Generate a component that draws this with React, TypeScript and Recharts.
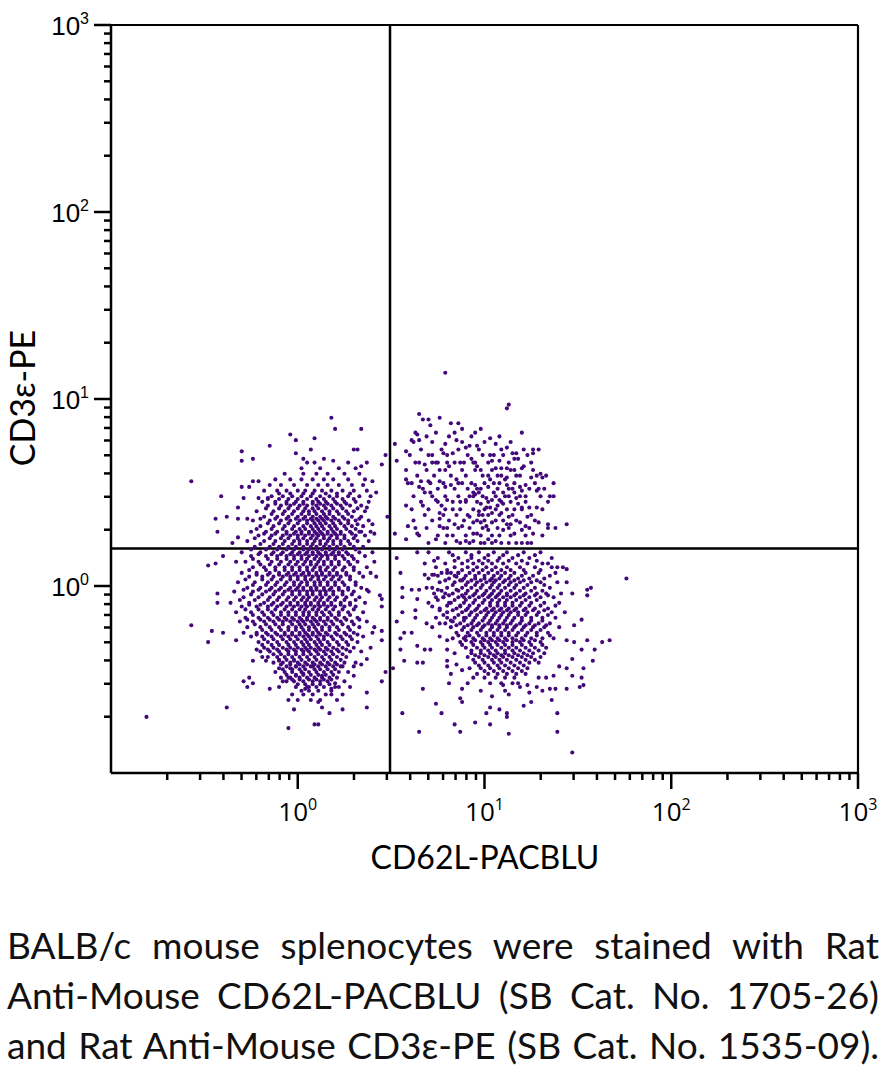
import React from 'react';
import { ScatterChart, Scatter, XAxis, YAxis, ReferenceLine } from 'recharts';

type Pt = [number, number];
type Row = [number, number[]];

// All values are log10 of fluorescence intensity: [CD62L-PACBLU, CD3e-PE]
const leftSparse: Pt[] = [
  [-0.04,0.81],[-0.01,0.78],[-0.15,0.75],[-0.30,0.72],[-0.30,0.67],[-0.24,0.68],[-0.01,0.71],[-0.57,0.56],[-0.41,0.48],[-0.30,0.53],
  [-0.26,0.53],[-0.24,0.56],[-0.21,0.56],[-0.29,0.47],[-0.21,0.47],[-0.16,0.47],[-0.32,0.42],[-0.44,0.36],[-0.38,0.37],[-0.43,0.29],
  [-0.32,0.36],[-0.27,0.36],[-0.35,0.23],[-0.32,0.26],[-0.40,0.16],[-0.48,0.11],[-0.44,0.12],[-0.33,0.13],
  [-0.57,-0.21],[-0.46,-0.24],[-0.48,-0.30],[-0.43,-0.04],[-0.43,-0.09],[-0.40,-0.25],[-0.33,-0.29],[-0.29,-0.25],[-0.81,-0.70],[-0.38,-0.65],
  [-0.29,-0.51],[-0.26,-0.49],[-0.27,-0.54],[-0.24,-0.52],[-0.15,-0.55],[-0.05,-0.61],[-0.02,-0.66],[-0.05,-0.76],[-0.22,-0.34],[-0.24,-0.40],
  [-0.19,-0.38],[-0.17,-0.40],[-0.10,-0.40],[-0.10,-0.44],[-0.08,-0.51],[-0.05,-0.49],[-0.04,-0.44],[-0.01,-0.43],[-0.02,-0.40],[-0.01,-0.48],
  [0.04,-0.55],[0.03,-0.47],
  [0.18,0.90],[0.20,0.84],[0.34,0.84],[0.09,0.79],[0.07,0.73],[0.30,0.73],[0.32,0.73],[0.47,0.70],[0.45,0.65],[0.03,0.68],
  [0.05,0.66],[0.09,0.66],[0.14,0.68],[0.19,0.67],[0.27,0.66],[0.37,0.66],[0.34,0.64],[0.40,0.56],[0.42,0.50],[0.39,0.48],
  [0.37,0.42],[0.48,0.37],[0.40,0.33],[0.41,0.28],[0.34,0.29],[0.32,0.33],
  [0.37,-0.57],[0.37,-0.65],[0.45,-0.51],[0.45,-0.29],[0.45,-0.24],[0.47,-0.46],[0.39,-0.33],[0.30,-0.48],[0.24,-0.66],[0.17,-0.68],
  [0.13,-0.65],[0.11,-0.62],[0.09,-0.74],[0.11,-0.74],[0.05,-0.54],[0.20,-0.52],[0.18,-0.55],[0.22,-0.54],[0.18,-0.58],[0.08,-0.43],
  [0.13,-0.48],[0.24,-0.43],[0.30,-0.43],[0.34,-0.42],[0.37,-0.39],[0.41,-0.22],[0.40,-0.25],[0.45,-0.11],[0.44,-0.05],[0.37,-0.02],
  [0.39,0.07],[0.45,-0.07],[0.51,-0.44],[0.52,0.28],[0.52,0.76],
];

const leftCoreRows: Row[] = [
  [0.63, [0.02, 0.12, 0.22, 0.31]],
  [0.60, [-0.07, 0.03, 0.10, 0.16, 0.25, 0.33]],
  [0.57, [-0.12, -0.04, 0.02, 0.08, 0.14, 0.19, 0.27, 0.36]],
  [0.54, [-0.15, -0.09, -0.02, 0.05, 0.11, 0.16, 0.22, 0.29, 0.35]],
  [0.51, [-0.18, -0.11, -0.06, 0.00, 0.04, 0.09, 0.13, 0.18, 0.24, 0.30, 0.37]],
  [0.48, [-0.14, -0.08, -0.03, 0.02, 0.07, 0.12, 0.17, 0.21, 0.27, 0.33]],
  [0.45, [-0.19, -0.12, -0.06, -0.01, 0.03, 0.08, 0.11, 0.15, 0.20, 0.25, 0.31, 0.38]],
  [0.43, [-0.16, -0.09, -0.04, 0.01, 0.05, 0.10, 0.14, 0.18, 0.23, 0.28, 0.34]],
  [0.40, [-0.22, -0.13, -0.07, -0.02, 0.03, 0.06, 0.09, 0.13, 0.17, 0.21, 0.26, 0.30, 0.36]],
  [0.37, [-0.18, -0.11, -0.05, 0.00, 0.04, 0.08, 0.12, 0.15, 0.19, 0.24, 0.29, 0.34]],
  [0.35, [-0.24, -0.15, -0.09, -0.04, 0.01, 0.05, 0.08, 0.11, 0.14, 0.18, 0.22, 0.27, 0.31, 0.38]],
  [0.32, [-0.20, -0.13, -0.07, -0.02, 0.03, 0.07, 0.10, 0.13, 0.17, 0.20, 0.25, 0.29, 0.35]],
  [0.29, [-0.25, -0.17, -0.11, -0.06, -0.01, 0.02, 0.06, 0.09, 0.12, 0.16, 0.19, 0.23, 0.28, 0.33, 0.39]],
  [0.27, [-0.21, -0.14, -0.08, -0.04, 0.00, 0.04, 0.08, 0.11, 0.14, 0.18, 0.21, 0.25, 0.31, 0.36]],
  [0.24, [-0.27, -0.18, -0.12, -0.07, -0.02, 0.01, 0.05, 0.09, 0.12, 0.16, 0.19, 0.23, 0.27, 0.32, 0.38]],
  [0.21, [-0.23, -0.15, -0.10, -0.05, -0.01, 0.03, 0.07, 0.10, 0.14, 0.17, 0.21, 0.25, 0.30, 0.35]],
  [0.18, [-0.30, -0.20, -0.13, -0.08, -0.03, 0.01, 0.05, 0.08, 0.11, 0.15, 0.19, 0.22, 0.26, 0.33, 0.40]],
  [0.16, [-0.25, -0.17, -0.11, -0.06, -0.02, 0.02, 0.06, 0.10, 0.13, 0.16, 0.20, 0.24, 0.29, 0.36]],
  [0.13, [-0.28, -0.21, -0.14, -0.09, -0.04, 0.00, 0.04, 0.07, 0.11, 0.14, 0.18, 0.22, 0.27, 0.32, 0.41]],
  [0.10, [-0.24, -0.18, -0.12, -0.07, -0.03, 0.01, 0.05, 0.09, 0.12, 0.16, 0.20, 0.25, 0.30, 0.37]],
  [0.07, [-0.30, -0.22, -0.15, -0.10, -0.05, -0.01, 0.03, 0.06, 0.10, 0.13, 0.17, 0.21, 0.26, 0.33]],
  [0.05, [-0.26, -0.19, -0.13, -0.08, -0.04, 0.00, 0.04, 0.08, 0.11, 0.15, 0.19, 0.23, 0.28, 0.35, 0.42]],
  [0.02, [-0.32, -0.23, -0.16, -0.11, -0.06, -0.02, 0.02, 0.05, 0.09, 0.12, 0.16, 0.20, 0.24, 0.31]],
  [-0.01, [-0.27, -0.20, -0.14, -0.09, -0.04, 0.00, 0.03, 0.07, 0.10, 0.14, 0.18, 0.22, 0.27, 0.34]],
  [-0.03, [-0.34, -0.24, -0.17, -0.12, -0.07, -0.03, 0.01, 0.05, 0.08, 0.12, 0.15, 0.19, 0.24, 0.30, 0.38]],
  [-0.06, [-0.29, -0.21, -0.15, -0.10, -0.05, -0.01, 0.03, 0.06, 0.10, 0.13, 0.17, 0.21, 0.26, 0.33]],
  [-0.09, [-0.36, -0.26, -0.18, -0.13, -0.08, -0.04, 0.00, 0.04, 0.07, 0.11, 0.14, 0.18, 0.23, 0.28, 0.36]],
  [-0.11, [-0.30, -0.22, -0.16, -0.11, -0.06, -0.02, 0.02, 0.05, 0.09, 0.12, 0.16, 0.20, 0.25, 0.31]],
  [-0.14, [-0.33, -0.25, -0.19, -0.14, -0.09, -0.05, -0.01, 0.03, 0.06, 0.10, 0.13, 0.17, 0.22, 0.27, 0.35]],
  [-0.17, [-0.28, -0.21, -0.16, -0.11, -0.07, -0.03, 0.01, 0.05, 0.08, 0.12, 0.16, 0.20, 0.25, 0.32]],
  [-0.19, [-0.31, -0.24, -0.18, -0.13, -0.08, -0.04, 0.00, 0.03, 0.07, 0.10, 0.14, 0.18, 0.23, 0.29, 0.37]],
  [-0.22, [-0.27, -0.20, -0.15, -0.10, -0.05, -0.01, 0.02, 0.06, 0.09, 0.13, 0.17, 0.21, 0.27, 0.33]],
  [-0.25, [-0.22, -0.17, -0.12, -0.07, -0.03, 0.01, 0.04, 0.08, 0.11, 0.15, 0.20, 0.25, 0.30]],
  [-0.27, [-0.25, -0.19, -0.14, -0.09, -0.05, -0.01, 0.03, 0.06, 0.10, 0.14, 0.18, 0.23, 0.28, 0.35]],
  [-0.30, [-0.21, -0.16, -0.11, -0.06, -0.02, 0.02, 0.05, 0.09, 0.12, 0.16, 0.21, 0.26, 0.32]],
  [-0.33, [-0.18, -0.13, -0.08, -0.04, 0.00, 0.04, 0.07, 0.11, 0.15, 0.19, 0.24, 0.30]],
  [-0.35, [-0.20, -0.15, -0.10, -0.05, -0.01, 0.03, 0.06, 0.10, 0.14, 0.18, 0.22, 0.28, 0.34]],
  [-0.38, [-0.16, -0.11, -0.07, -0.03, 0.01, 0.05, 0.09, 0.13, 0.17, 0.21, 0.26]],
  [-0.41, [-0.13, -0.08, -0.04, 0.00, 0.04, 0.08, 0.12, 0.16, 0.20, 0.25, 0.31]],
  [-0.43, [-0.06, -0.01, 0.03, 0.07, 0.11, 0.15, 0.19, 0.23]],
  [-0.46, [-0.12, -0.07, -0.03, 0.02, 0.06, 0.10, 0.14, 0.18, 0.22, 0.27]],
  [-0.49, [-0.09, -0.04, 0.01, 0.05, 0.09, 0.13, 0.17, 0.21]],
  [-0.51, [-0.06, -0.02, 0.03, 0.08, 0.12, 0.16, 0.25]],
  [-0.54, [-0.10, -0.01, 0.06, 0.10, 0.14, 0.20, 0.28]],
  [-0.58, [-0.03, 0.03, 0.08, 0.15, 0.24]],
  [-0.61, [0.00, 0.07, 0.12, 0.21]],
];

// Second, interleaved layer of the densest part of the left population
const leftDenseRows: Row[] = [
  [0.495, [-0.10, -0.04, 0.03, 0.08, 0.15, 0.21, 0.28]],
  [0.465, [-0.16, -0.10, -0.05, 0.00, 0.05, 0.10, 0.14, 0.19, 0.24, 0.30]],
  [0.44, [-0.12, -0.06, -0.02, 0.03, 0.08, 0.12, 0.16, 0.21, 0.26]],
  [0.415, [-0.17, -0.10, -0.05, 0.00, 0.04, 0.08, 0.11, 0.15, 0.19, 0.24, 0.32]],
  [0.385, [-0.14, -0.08, -0.03, 0.02, 0.06, 0.10, 0.14, 0.17, 0.22, 0.27]],
  [0.36, [-0.20, -0.12, -0.06, -0.01, 0.03, 0.07, 0.10, 0.13, 0.16, 0.20, 0.25, 0.33]],
  [0.335, [-0.16, -0.10, -0.05, 0.00, 0.05, 0.09, 0.12, 0.15, 0.19, 0.23, 0.27]],
  [0.305, [-0.22, -0.14, -0.08, -0.03, 0.01, 0.04, 0.08, 0.11, 0.14, 0.18, 0.21, 0.26, 0.31]],
  [0.28, [-0.18, -0.12, -0.06, -0.02, 0.02, 0.06, 0.10, 0.13, 0.16, 0.20, 0.23, 0.29]],
  [0.255, [-0.23, -0.15, -0.09, -0.05, 0.00, 0.03, 0.07, 0.10, 0.14, 0.17, 0.21, 0.25, 0.30]],
  [0.225, [-0.20, -0.13, -0.08, -0.03, 0.01, 0.05, 0.08, 0.12, 0.15, 0.19, 0.23, 0.28]],
  [0.195, [-0.25, -0.17, -0.11, -0.06, -0.02, 0.03, 0.06, 0.10, 0.13, 0.17, 0.20, 0.24, 0.31]],
  [0.17, [-0.21, -0.14, -0.09, -0.04, 0.00, 0.04, 0.08, 0.12, 0.15, 0.18, 0.22, 0.27]],
  [0.145, [-0.24, -0.16, -0.11, -0.06, -0.02, 0.02, 0.05, 0.09, 0.12, 0.16, 0.20, 0.25, 0.30]],
  [0.115, [-0.20, -0.15, -0.10, -0.05, -0.01, 0.03, 0.07, 0.10, 0.14, 0.18, 0.22, 0.28]],
  [0.085, [-0.26, -0.17, -0.12, -0.07, -0.03, 0.01, 0.05, 0.08, 0.12, 0.15, 0.19, 0.24, 0.30]],
  [0.06, [-0.22, -0.16, -0.10, -0.06, -0.02, 0.02, 0.06, 0.10, 0.13, 0.17, 0.21, 0.26]],
  [0.035, [-0.28, -0.19, -0.14, -0.09, -0.04, 0.00, 0.04, 0.07, 0.11, 0.14, 0.18, 0.22, 0.28]],
  [0.005, [-0.24, -0.17, -0.12, -0.07, -0.02, 0.01, 0.05, 0.09, 0.12, 0.16, 0.20, 0.25, 0.31]],
  [-0.02, [-0.29, -0.21, -0.15, -0.10, -0.05, -0.01, 0.03, 0.07, 0.10, 0.14, 0.17, 0.22, 0.27]],
  [-0.045, [-0.25, -0.19, -0.13, -0.08, -0.03, 0.01, 0.05, 0.08, 0.12, 0.15, 0.19, 0.24, 0.29]],
  [-0.075, [-0.31, -0.23, -0.16, -0.11, -0.06, -0.02, 0.02, 0.05, 0.09, 0.12, 0.16, 0.20, 0.25, 0.31]],
  [-0.10, [-0.26, -0.20, -0.14, -0.09, -0.04, 0.00, 0.04, 0.07, 0.11, 0.14, 0.18, 0.23, 0.28]],
  [-0.125, [-0.28, -0.21, -0.16, -0.12, -0.07, -0.03, 0.01, 0.04, 0.08, 0.11, 0.15, 0.19, 0.24, 0.30]],
  [-0.155, [-0.24, -0.18, -0.13, -0.09, -0.05, -0.01, 0.03, 0.06, 0.10, 0.14, 0.18, 0.22, 0.28]],
  [-0.18, [-0.27, -0.20, -0.15, -0.10, -0.06, -0.02, 0.02, 0.05, 0.09, 0.12, 0.16, 0.21, 0.26, 0.33]],
  [-0.205, [-0.23, -0.17, -0.12, -0.08, -0.03, 0.01, 0.04, 0.08, 0.11, 0.15, 0.19, 0.24, 0.30]],
  [-0.235, [-0.19, -0.14, -0.09, -0.05, -0.01, 0.03, 0.06, 0.10, 0.13, 0.17, 0.22, 0.28]],
  [-0.26, [-0.22, -0.16, -0.11, -0.07, -0.03, 0.01, 0.05, 0.08, 0.12, 0.16, 0.21, 0.26, 0.32]],
  [-0.285, [-0.18, -0.13, -0.08, -0.04, 0.00, 0.04, 0.07, 0.11, 0.14, 0.19, 0.24, 0.29]],
  [-0.315, [-0.19, -0.14, -0.10, -0.05, -0.01, 0.03, 0.06, 0.10, 0.13, 0.17, 0.22, 0.27]],
  [-0.34, [-0.16, -0.11, -0.06, -0.02, 0.02, 0.05, 0.09, 0.12, 0.16, 0.21, 0.26]],
  [-0.365, [-0.13, -0.09, -0.05, -0.01, 0.03, 0.07, 0.11, 0.15, 0.19, 0.24]],
  [-0.395, [-0.10, -0.06, -0.02, 0.02, 0.06, 0.10, 0.14, 0.18, 0.23]],
  [-0.42, [-0.09, -0.04, 0.01, 0.05, 0.09, 0.13, 0.17, 0.21]],
  [-0.445, [-0.08, -0.03, 0.01, 0.04, 0.09, 0.12, 0.16, 0.20]],
  [-0.475, [-0.06, -0.01, 0.03, 0.07, 0.11, 0.15, 0.19]],
  [-0.50, [-0.03, 0.01, 0.06, 0.10, 0.14, 0.18]],
  [-0.525, [0.00, 0.04, 0.08, 0.12, 0.17]],
  [-0.56, [0.02, 0.06, 0.11, 0.18]],
];

const rightSparse: Pt[] = [
  [0.65,0.92],[0.67,0.89],[0.70,0.89],[0.76,0.90],[0.82,0.87],[0.86,0.87],[0.71,0.86],[0.88,0.84],[0.63,0.82],[0.64,0.81],
  [0.74,0.82],[0.84,0.82],[0.61,0.78],[0.65,0.78],[0.79,0.76],[0.85,0.78],[0.90,0.74],[0.58,0.72],[0.72,0.70],[0.78,0.71],
  [0.83,0.71],[0.53,0.67],[0.65,0.66],[0.68,0.65],[0.72,0.66],[0.75,0.66],[0.80,0.66],[0.87,0.66],[0.89,0.66],[0.76,0.62],
  [0.81,0.64],[0.58,0.57],[0.59,0.55],[0.66,0.56],[0.70,0.56],[0.76,0.56],[0.79,0.53],[0.82,0.54],[0.85,0.57],[0.88,0.55],
  [0.65,0.53],[0.68,0.50],[0.71,0.50],[0.74,0.46],[0.77,0.43],[0.80,0.46],[0.87,0.45],[0.90,0.46],[0.58,0.43],[0.67,0.43],
  [0.83,0.41],[0.76,0.39],[0.76,0.36],[0.76,0.32],[0.78,0.31],[0.84,0.33],[0.88,0.32],[0.59,0.32],[0.63,0.31],[0.64,0.28],
  [0.74,0.25],[0.80,0.27],[0.85,0.24],[0.90,0.24],[0.58,0.25],[0.53,0.15],[0.55,0.07],[0.64,0.18],[0.68,0.06],[0.72,0.06],
  [0.80,0.07],[0.86,0.07],
  [0.79,1.14],[1.13,0.97],[1.12,0.95],[0.95,0.82],[0.98,0.84],[1.03,0.79],[1.20,0.82],[1.06,0.76],[0.92,0.75],[0.96,0.75],
  [1.12,0.74],[1.26,0.73],[1.26,0.71],[1.29,0.73],[1.15,0.71],[1.17,0.71],[0.93,0.68],[0.95,0.66],[0.96,0.64],[1.03,0.70],
  [1.05,0.70],[1.16,0.68],[1.18,0.68],[1.04,0.67],[1.08,0.67],[0.98,0.62],[1.06,0.63],[1.09,0.63],[1.12,0.63],[1.16,0.62],
  [1.20,0.63],[1.21,0.64],[1.30,0.60],[1.28,0.59],[1.02,0.59],[1.03,0.57],[1.09,0.59],[1.12,0.58],[1.17,0.59],[1.25,0.58],
  [1.31,0.58],[1.37,0.55],[0.95,0.54],[0.96,0.52],[1.02,0.53],[1.05,0.55],[1.11,0.57],[1.12,0.54],[1.15,0.52],[1.19,0.53],
  [1.22,0.54],[1.29,0.52],[0.94,0.50],[0.97,0.50],[1.05,0.50],[1.10,0.50],[1.16,0.50],[1.20,0.51],[1.28,0.51],[0.92,0.48],
  [0.95,0.49],[1.01,0.47],[1.04,0.46],[1.08,0.46],[1.13,0.48],[1.17,0.47],[1.22,0.48],[1.35,0.48],[1.34,0.45],[1.37,0.48],
  [0.98,0.44],[1.01,0.42],[1.03,0.42],[1.07,0.43],[1.10,0.44],[1.18,0.44],[1.20,0.42],[1.24,0.42],[1.28,0.42],[0.92,0.37],
  [0.97,0.40],[0.99,0.38],[1.04,0.39],[1.09,0.39],[1.13,0.37],[1.16,0.41],[1.23,0.37],[0.94,0.34],[0.98,0.34],[1.01,0.32],
  [1.04,0.34],[1.12,0.33],[1.14,0.33],[1.19,0.34],[1.22,0.32],[1.29,0.34],[1.34,0.33],[1.34,0.31],[1.44,0.33],[0.94,0.28],
  [0.96,0.28],[1.02,0.30],[1.04,0.27],[1.10,0.30],[1.16,0.28],[1.20,0.30],[1.26,0.28],[0.94,0.24],[0.98,0.23],[1.02,0.25],
  [1.06,0.24],[1.09,0.23],[1.17,0.23],[1.20,0.23],[1.25,0.23],
  [1.76,0.04],[1.52,-0.18],[1.55,-0.02],[1.57,-0.01],[1.55,-0.05],[1.47,-0.04],[1.44,0.02],[1.42,0.10],[1.39,0.10],[1.44,0.09],
  [1.34,0.12],[1.48,-0.21],[1.44,-0.29],[1.47,-0.39],[1.48,-0.30],[1.52,-0.34],[1.55,-0.29],[1.59,-0.34],[1.63,-0.30],[1.67,-0.29],
  [1.58,-0.40],[1.53,-0.44],[1.52,-0.49],[1.51,-0.54],[1.53,-0.53],[1.44,-0.44],[1.47,-0.48],[1.37,-0.48],[1.35,-0.55],[1.38,-0.55],
  [1.44,-0.55],[1.36,-0.61],[1.39,-0.68],[1.39,-0.78],[1.47,-0.89],[1.25,-0.62],[1.21,-0.64],[1.31,-0.56],[1.28,-0.54],[1.24,-0.57],
  [1.19,-0.54],[1.13,-0.58],[1.12,-0.68],[1.12,-0.70],[1.13,-0.79],[1.08,-0.66],[1.03,-0.65],[1.03,-0.74],[0.95,-0.73],[0.87,-0.78],
  [0.84,-0.74],[0.87,-0.60],[0.88,-0.62],[0.77,-0.68],[1.01,-0.68],[0.98,-0.56],[0.91,-0.52],[0.81,-0.52],[1.04,-0.59],[1.10,-0.53],
  [1.11,-0.56],[1.18,-0.52],[1.23,-0.53],[1.29,-0.49],[1.33,-0.49],[1.40,-0.43],
  [0.67,-0.55],[0.74,-0.63],[0.56,-0.68],[0.65,-0.78],[0.55,-0.34],[0.57,-0.40],[0.64,-0.41],[0.67,-0.41],[0.80,-0.40],[0.80,-0.43],
  [0.85,-0.42],[0.88,-0.45],[0.82,-0.47],[0.88,-0.55],[0.64,-0.32],[0.68,-0.34],[0.71,-0.34],[0.80,-0.34],[0.84,-0.36],[0.57,-0.25],
  [0.61,-0.25],[0.55,-0.28],[0.76,-0.27],[0.80,-0.29],[0.90,-0.27],[0.53,-0.19],[0.63,-0.17],[0.69,-0.20],[0.72,-0.22],[0.76,-0.20],
  [0.83,-0.19],[0.89,-0.17],[0.56,-0.14],[0.63,-0.13],[0.72,-0.11],[0.76,-0.13],[0.80,-0.17],[0.56,-0.06],[0.64,-0.07],[0.74,-0.06],
  [0.78,-0.06],[0.81,-0.09],[0.87,-0.11],[0.56,-0.01],[0.61,-0.02],[0.65,-0.02],[0.69,-0.01],[0.72,-0.01],[0.75,-0.02],[0.79,-0.04],
  [0.85,-0.02],[0.89,-0.06],[0.73,0.06],[0.82,0.07],[0.85,0.05],[0.88,0.03],
];

// Upper-right (CD3+ CD62L+) population, additional cells
const rightUpperRows: Row[] = [
  [0.80, [0.69, 0.81, 0.93, 1.08]],
  [0.77, [0.62, 0.72, 0.88, 1.00, 1.14]],
  [0.73, [0.66, 0.77, 0.86, 0.97, 1.09, 1.21]],
  [0.70, [0.60, 0.70, 0.80, 0.91, 0.99, 1.10, 1.23]],
  [0.66, [0.63, 0.74, 0.84, 0.94, 1.02, 1.13, 1.25]],
  [0.62, [0.58, 0.69, 0.79, 0.88, 0.95, 1.04, 1.14, 1.26]],
  [0.59, [0.64, 0.73, 0.82, 0.90, 0.99, 1.07, 1.19, 1.33]],
  [0.55, [0.61, 0.71, 0.78, 0.86, 0.93, 1.00, 1.08, 1.16, 1.27]],
  [0.52, [0.67, 0.75, 0.84, 0.91, 0.98, 1.07, 1.13, 1.24, 1.32]],
  [0.48, [0.62, 0.72, 0.79, 0.86, 0.94, 0.99, 1.06, 1.11, 1.19, 1.30]],
  [0.45, [0.66, 0.75, 0.83, 0.90, 0.96, 1.02, 1.09, 1.14, 1.22]],
  [0.41, [0.61, 0.70, 0.79, 0.87, 0.94, 1.00, 1.06, 1.12, 1.20, 1.31]],
  [0.38, [0.68, 0.78, 0.85, 0.91, 0.97, 1.02, 1.08, 1.15, 1.25]],
  [0.35, [0.62, 0.72, 0.81, 0.89, 0.96, 1.00, 1.06, 1.10, 1.17, 1.27]],
  [0.31, [0.69, 0.80, 0.86, 0.92, 0.99, 1.07, 1.13, 1.24, 1.38]],
  [0.27, [0.65, 0.75, 0.83, 0.90, 0.98, 1.08, 1.14, 1.22, 1.31]],
  [0.23, [0.70, 0.79, 0.87, 0.92, 1.00, 1.04, 1.13, 1.23]],
];

const rightCoreRows: Row[] = [
  [0.18, [0.70, 0.81, 0.90, 0.97, 1.05, 1.12, 1.21, 1.30]],
  [0.15, [0.75, 0.86, 0.93, 1.00, 1.08, 1.15, 1.24, 1.36]],
  [0.12, [0.68, 0.79, 0.88, 0.94, 0.99, 1.04, 1.10, 1.17, 1.23, 1.31]],
  [0.10, [0.74, 0.84, 0.91, 0.96, 1.01, 1.06, 1.12, 1.19, 1.27, 1.36]],
  [0.07, [0.77, 0.86, 0.92, 0.97, 1.02, 1.07, 1.11, 1.16, 1.22, 1.29, 1.38]],
  [0.04, [0.70, 0.81, 0.89, 0.95, 1.00, 1.04, 1.08, 1.13, 1.18, 1.24, 1.32]],
  [0.02, [0.76, 0.84, 0.91, 0.96, 1.01, 1.05, 1.10, 1.14, 1.19, 1.25, 1.30, 1.39]],
  [-0.01, [0.80, 0.88, 0.93, 0.98, 1.03, 1.07, 1.11, 1.16, 1.21, 1.27, 1.35]],
  [-0.04, [0.73, 0.83, 0.90, 0.95, 1.00, 1.04, 1.08, 1.12, 1.17, 1.22, 1.28, 1.33, 1.41]],
  [-0.06, [0.78, 0.86, 0.92, 0.97, 1.02, 1.06, 1.10, 1.14, 1.19, 1.24, 1.30, 1.37]],
  [-0.09, [0.70, 0.82, 0.89, 0.94, 0.99, 1.03, 1.07, 1.11, 1.15, 1.20, 1.25, 1.32, 1.40]],
  [-0.12, [0.76, 0.85, 0.91, 0.96, 1.01, 1.05, 1.09, 1.13, 1.17, 1.22, 1.27, 1.34]],
  [-0.14, [0.80, 0.88, 0.93, 0.98, 1.02, 1.06, 1.10, 1.14, 1.18, 1.23, 1.29, 1.36, 1.43]],
  [-0.17, [0.74, 0.84, 0.90, 0.95, 1.00, 1.04, 1.08, 1.12, 1.16, 1.20, 1.25, 1.31, 1.38]],
  [-0.20, [0.79, 0.87, 0.93, 0.97, 1.02, 1.06, 1.10, 1.14, 1.19, 1.24, 1.29, 1.35]],
  [-0.22, [0.82, 0.89, 0.94, 0.99, 1.04, 1.08, 1.12, 1.16, 1.21, 1.26, 1.32, 1.40]],
  [-0.25, [0.85, 0.91, 0.96, 1.01, 1.05, 1.09, 1.13, 1.18, 1.23, 1.28, 1.34]],
  [-0.28, [0.83, 0.89, 0.94, 0.99, 1.03, 1.07, 1.11, 1.15, 1.20, 1.25, 1.31, 1.37]],
  [-0.30, [0.87, 0.93, 0.98, 1.02, 1.06, 1.10, 1.15, 1.19, 1.24, 1.30]],
  [-0.33, [0.90, 0.96, 1.00, 1.04, 1.09, 1.13, 1.17, 1.22, 1.27, 1.33]],
  [-0.36, [0.93, 0.98, 1.03, 1.07, 1.11, 1.16, 1.21, 1.26, 1.32]],
  [-0.38, [0.91, 0.97, 1.02, 1.06, 1.10, 1.15, 1.20, 1.25, 1.30]],
  [-0.41, [0.95, 1.00, 1.05, 1.09, 1.14, 1.19, 1.24, 1.29]],
  [-0.44, [0.92, 0.98, 1.03, 1.08, 1.13, 1.18, 1.23]],
  [-0.47, [0.96, 1.02, 1.07, 1.12, 1.17, 1.22]],
  [-0.49, [0.94, 1.00, 1.06, 1.11, 1.16]],
  [-0.52, [1.03, 1.09, 1.15]],
];

// Second, interleaved layer of the densest part of the right (CD62L+) population
const rightDenseRows: Row[] = [
  [0.165, [0.83, 0.93, 1.02, 1.10, 1.18, 1.27]],
  [0.135, [0.73, 0.84, 0.91, 0.97, 1.02, 1.07, 1.13, 1.20, 1.28]],
  [0.085, [0.80, 0.88, 0.94, 0.99, 1.04, 1.09, 1.14, 1.21, 1.30]],
  [0.055, [0.75, 0.84, 0.90, 0.95, 1.00, 1.05, 1.09, 1.14, 1.20, 1.26, 1.35]],
  [0.03, [0.79, 0.87, 0.93, 0.98, 1.03, 1.06, 1.11, 1.16, 1.21, 1.28]],
  [0.005, [0.83, 0.90, 0.95, 0.99, 1.04, 1.08, 1.13, 1.17, 1.23, 1.32]],
  [-0.025, [0.77, 0.86, 0.91, 0.96, 1.01, 1.05, 1.09, 1.14, 1.19, 1.25, 1.31]],
  [-0.05, [0.81, 0.88, 0.94, 0.99, 1.03, 1.07, 1.12, 1.16, 1.21, 1.27, 1.34]],
  [-0.075, [0.75, 0.84, 0.90, 0.95, 1.00, 1.04, 1.08, 1.12, 1.17, 1.22, 1.28]],
  [-0.105, [0.80, 0.87, 0.92, 0.97, 1.03, 1.07, 1.11, 1.15, 1.19, 1.24, 1.30, 1.38]],
  [-0.13, [0.83, 0.90, 0.95, 1.00, 1.04, 1.08, 1.12, 1.16, 1.21, 1.26, 1.32]],
  [-0.155, [0.78, 0.86, 0.92, 0.96, 1.01, 1.05, 1.09, 1.13, 1.18, 1.22, 1.28, 1.34]],
  [-0.185, [0.82, 0.89, 0.94, 0.99, 1.03, 1.07, 1.11, 1.15, 1.20, 1.25, 1.31]],
  [-0.21, [0.85, 0.91, 0.96, 1.00, 1.04, 1.08, 1.12, 1.17, 1.22, 1.27, 1.33]],
  [-0.235, [0.88, 0.93, 0.98, 1.03, 1.07, 1.11, 1.15, 1.20, 1.25, 1.30]],
  [-0.265, [0.86, 0.92, 0.97, 1.01, 1.05, 1.09, 1.13, 1.17, 1.22, 1.28, 1.35]],
  [-0.29, [0.90, 0.95, 1.00, 1.04, 1.08, 1.12, 1.17, 1.21, 1.27]],
  [-0.315, [0.88, 0.94, 0.99, 1.03, 1.07, 1.11, 1.15, 1.20, 1.25, 1.31]],
  [-0.345, [0.93, 0.98, 1.02, 1.06, 1.11, 1.15, 1.19, 1.24, 1.29]],
  [-0.37, [0.95, 1.00, 1.05, 1.09, 1.13, 1.18, 1.23]],
  [-0.395, [0.94, 0.99, 1.04, 1.08, 1.12, 1.17, 1.22, 1.27]],
  [-0.425, [0.97, 1.02, 1.07, 1.11, 1.16, 1.21]],
  [-0.455, [1.00, 1.05, 1.10, 1.15, 1.20]],
];

// Quadrant gate positions (log10)
const gateX = 0.494;
const gateY = 0.2;

// Axis: decades shown and label exponents
const axisDomain: [number, number] = [-1, 3];
const decades = [-1, 0, 1, 2];
const minorMultipliers = [2, 3, 4, 5, 6, 7, 8, 9];
const labelExponents = [0, 1, 2, 3];

const captionLines = [
  'BALB/c mouse splenocytes were stained with Rat',
  'Anti-Mouse CD62L-PACBLU (SB Cat. No. 1705-26)',
  'and Rat Anti-Mouse CD3\u03b5-PE (SB Cat. No. 1535-09).',
];

const xTitle = 'CD62L-PACBLU';
const yTitle = 'CD3\u03b5-PE';

const toPoints = (pts: Pt[]) => pts.map(([x, y]) => ({ x, y }));
const fromRows = (rows: Row[]) => rows.flatMap(([y, xs]) => xs.map((x) => ({ x, y })));

const leftData = [...fromRows(leftCoreRows), ...fromRows(leftDenseRows), ...toPoints(leftSparse)];
const rightData = [
  ...fromRows(rightCoreRows),
  ...fromRows(rightDenseRows),
  ...fromRows(rightUpperRows),
  ...toPoints(rightSparse),
];

const axisTicks: number[] = [
  ...decades.flatMap((d) => [d, ...minorMultipliers.map((m) => d + Math.log10(m))]),
  3,
];

const DOT = '#430879';

const isMajor = (v: number) => Math.abs(v - Math.round(v)) < 1e-9;

const XTick = (props: any) => {
  const { x, y, payload } = props;
  const v: number = payload.value;
  const major = isMajor(v);
  const e = Math.round(v);
  if (major && e === -1) return <g />;
  return (
    <g>
      <line x1={x} x2={x} y1={y} y2={y + (major ? 16 : 7)} stroke="#000" strokeWidth={2.5} />
      {major && labelExponents.includes(e) && (
        <text x={x} y={y + 48} textAnchor="middle" fontFamily="'Open Sans', sans-serif" fontSize={26} fill="#000">
          10
          <tspan dy={-11} fontSize={16}>{e}</tspan>
        </text>
      )}
    </g>
  );
};

const YTick = (props: any) => {
  const { x, y, payload } = props;
  const v: number = payload.value;
  const major = isMajor(v);
  const e = Math.round(v);
  if (major && e === -1) return <g />;
  return (
    <g>
      <line x1={x - (major ? 17 : 7)} x2={x} y1={y} y2={y} stroke="#000" strokeWidth={2.5} />
      {major && labelExponents.includes(e) && (
        <text x={x - 22} y={y + 10} textAnchor="end" fontFamily="'Liberation Sans', Arial, sans-serif" fontSize={26} fill="#000">
          10
          <tspan dy={-11} fontSize={16}>{e}</tspan>
        </text>
      )}
    </g>
  );
};

const Dot = (props: any) => <circle cx={props.cx} cy={props.cy} r={2.05} fill={DOT} />;

export default function App() {
  return (
    <div style={{ position: 'absolute', left: 0, top: 0, width: 889, height: 1072, background: '#fff' }}>
      <div style={{ position: 'absolute', left: 0, top: 0 }}>
        <ScatterChart width={889} height={900} margin={{ top: 25, right: 31, bottom: 67, left: 51 }}>
          <XAxis
            type="number"
            dataKey="x"
            domain={axisDomain}
            ticks={axisTicks}
            interval={0}
            allowDataOverflow
            tick={(p: any) => <XTick {...p} />}
            tickLine={false}
            tickSize={0}
            tickMargin={0}
            axisLine={{ stroke: '#000', strokeWidth: 2.5 }}
            height={60}
          />
          <YAxis
            type="number"
            dataKey="y"
            domain={axisDomain}
            ticks={axisTicks}
            interval={0}
            allowDataOverflow
            tick={(p: any) => <YTick {...p} />}
            tickLine={false}
            tickSize={0}
            tickMargin={0}
            axisLine={{ stroke: '#000', strokeWidth: 2.5 }}
            width={60}
          />
          <Scatter data={leftData} shape={Dot} isAnimationActive={false} />
          <Scatter data={rightData} shape={Dot} isAnimationActive={false} />
          <ReferenceLine y={axisDomain[1]} stroke="#000" strokeWidth={2.2} />
          <ReferenceLine x={axisDomain[1]} stroke="#000" strokeWidth={2.2} />
          <ReferenceLine x={gateX} stroke="#000" strokeWidth={2.5} />
          <ReferenceLine y={gateY} stroke="#000" strokeWidth={2.5} />
        </ScatterChart>
      </div>
      <div
        style={{
          position: 'absolute',
          left: 22,
          top: 398,
          transform: 'translate(-50%, -50%) rotate(-90deg)',
          fontFamily: 'Lato, sans-serif',
          fontSize: 34,
          lineHeight: '34px',
          whiteSpace: 'nowrap',
          color: '#000',
        }}
      >
        {yTitle}
      </div>
      <div
        style={{
          position: 'absolute',
          left: 485,
          top: 841,
          transform: 'translateX(-50%)',
          fontFamily: 'Lato, sans-serif',
          fontSize: 32,
          lineHeight: '32px',
          whiteSpace: 'nowrap',
          color: '#000',
        }}
      >
        {xTitle}
      </div>
      <div
        style={{
          position: 'absolute',
          left: 7,
          top: 920,
          width: 872,
          fontFamily: 'Lato, sans-serif',
          fontSize: 37,
          lineHeight: '50px',
          color: '#111',
        }}
      >
        {captionLines.map((l, i) => (
          <div key={i} style={{ textAlign: 'justify', textAlignLast: 'justify' as any }}>
            {l}
          </div>
        ))}
      </div>
    </div>
  );
}
